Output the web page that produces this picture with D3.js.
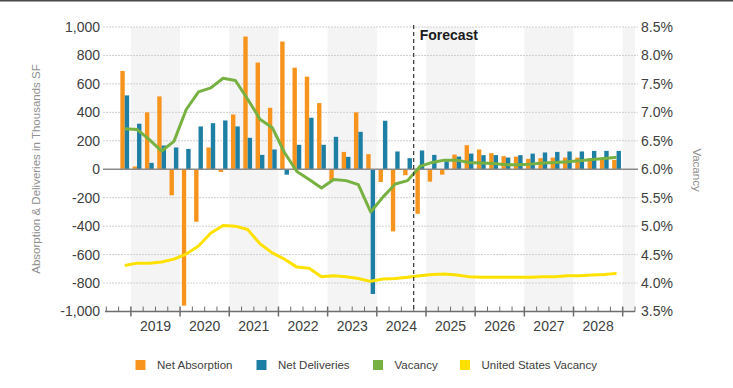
<!DOCTYPE html>
<html>
<head>
<meta charset="utf-8">
<script src="https://cdn.jsdelivr.net/npm/d3@7"></script>
<style>
  html, body { margin: 0; padding: 0; background: #fff; }
  svg { display: block; font-family: "Liberation Sans", Arial, sans-serif; }
</style>
</head>
<body>
<svg id="chart" width="733" height="388"></svg>
<script>
// ---------- DATA ----------
const quarters = [
  "2018 Q4",
  "2019 Q1","2019 Q2","2019 Q3","2019 Q4",
  "2020 Q1","2020 Q2","2020 Q3","2020 Q4",
  "2021 Q1","2021 Q2","2021 Q3","2021 Q4",
  "2022 Q1","2022 Q2","2022 Q3","2022 Q4",
  "2023 Q1","2023 Q2","2023 Q3","2023 Q4",
  "2024 Q1","2024 Q2","2024 Q3","2024 Q4",
  "2025 Q1","2025 Q2","2025 Q3","2025 Q4",
  "2026 Q1","2026 Q2","2026 Q3","2026 Q4",
  "2027 Q1","2027 Q2","2027 Q3","2027 Q4",
  "2028 Q1","2028 Q2","2028 Q3","2028 Q4"
];
const netAbsorption = [
  691,
  19, 400, 512, -183,
  -959, -369, 153, -19,
  385, 933, 750, 432,
  898, 714, 651, 465,
  -82, 122, 400, 106,
  -89, -437, -42, -313,
  -87, -38, 103, 169,
  139, 113, 92, 89,
  73, 78, 82, 82,
  82, 78, 73, 66
];
const netDeliveries = [
  519,
  320, 45, 167, 153,
  143, 301, 324, 343,
  301, 221, 101, 139,
  -38, 172, 362, 172,
  228, 87, 263, -877,
  341, 125, 78, 132,
  101, 56, 89, 110,
  99, 99, 82, 99,
  110, 118, 122, 125,
  125, 129, 129, 129
];
const vacancy = [
  6.71,
  6.70, 6.52, 6.32, 6.49,
  7.05, 7.36, 7.43, 7.60,
  7.56, 7.23, 6.88, 6.73,
  6.29, 5.96, 5.82, 5.67,
  5.82, 5.80, 5.73, 5.25,
  5.51, 5.74, 5.80, 6.05,
  6.12, 6.16, 6.16, 6.12,
  6.11, 6.10, 6.08, 6.08,
  6.09, 6.11, 6.12, 6.13,
  6.15, 6.17, 6.19, 6.21
];
const usVacancy = [
  4.31,
  4.35, 4.35, 4.37, 4.42,
  4.51, 4.65, 4.88, 5.01,
  5.00, 4.94, 4.69, 4.53,
  4.42, 4.28, 4.26, 4.11,
  4.13, 4.11, 4.08, 4.03,
  4.07, 4.08, 4.10, 4.13,
  4.15, 4.16, 4.14, 4.11,
  4.10, 4.10, 4.10, 4.10,
  4.10, 4.11, 4.11, 4.13,
  4.13, 4.14, 4.15, 4.17
];
const years = ["2019","2020","2021","2022","2023","2024","2025","2026","2027","2028"];
const shadedYears = ["2019","2021","2023","2025","2027","2029"];
const leftTicks = [-1000,-800,-600,-400,-200,0,200,400,600,800,1000];
const rightTicks = [3.5,4.0,4.5,5.0,5.5,6.0,6.5,7.0,7.5,8.0,8.5];
const firstForecast = "2024 Q4";
const seriesNames = ["Net Absorption","Net Deliveries","Vacancy","United States Vacancy"];
const colors = {
  "Net Absorption": "#F7941D",
  "Net Deliveries": "#1D7FA3",
  "Vacancy": "#77B142",
  "United States Vacancy": "#FFE100"
};

// ---------- LAYOUT ----------
const svg = d3.select("#chart");
const plotLeft = 106.3, plotRight = 635, plotTop = 27, plotBottom = 311.5;

// slots: an empty quarter before and after the data
const slots = ["pad0", ...quarters, "pad1"];
const x = d3.scaleBand().domain(slots).range([plotLeft, plotRight]).padding(0);
const bw = x.bandwidth();
const xSub = d3.scaleBand().domain(["abs","del"]).range([0, bw]).paddingInner(0).paddingOuter(0.4);
const yL = d3.scaleLinear().domain([-1000, 1000]).range([plotBottom, plotTop]);
const yR = d3.scaleLinear().domain([3.5, 8.5]).range([plotBottom, plotTop]);

// year boundary position: start of Q1 slot (2029 -> after last slot's predecessor)
function yearStart(y) {
  const k = y + " Q1";
  if (quarters.includes(k)) return x(k);
  return x("pad1"); // 2029
}

// top border
svg.append("line").attr("x1", 0).attr("x2", 733).attr("y1", 0.5).attr("y2", 0.5)
  .attr("stroke", "#4a4a4a").attr("stroke-width", 2);

// shading
const gShade = svg.append("g");
shadedYears.forEach(yr => {
  const s = yearStart(+yr);
  const e = Math.min(s + 4 * bw, plotRight);
  gShade.append("rect").attr("x", s).attr("y", plotTop).attr("width", e - s)
    .attr("height", plotBottom - plotTop).attr("fill", "#f4f4f4");
});

// gridlines
const fmtL = d3.formatLocale({decimal: ".", thousands: ",", grouping: [3], currency: ["$", ""], minus: "-"}).format(",");
const gGrid = svg.append("g");
leftTicks.forEach(t => {
  if (t === -1000 || t === 0) return;
  gGrid.append("line").attr("x1", 103).attr("x2", 638)
    .attr("y1", yL(t)).attr("y2", yL(t))
    .attr("stroke", "#cfcfcf").attr("stroke-width", 1).attr("stroke-dasharray", "2,1");
});

// left tick labels
svg.append("g").selectAll("text").data(leftTicks).join("text")
  .attr("x", 100).attr("y", d => yL(d)).attr("dy", "0.35em")
  .attr("text-anchor", "end").attr("font-size", 14).attr("fill", "#404040")
  .text(d => fmtL(d));
// right tick labels
svg.append("g").selectAll("text").data(rightTicks).join("text")
  .attr("x", 641).attr("y", d => yR(d)).attr("dy", "0.35em")
  .attr("text-anchor", "start").attr("font-size", 14).attr("fill", "#404040")
  .text(d => d3.format(".1f")(d) + "%");

// axis titles
svg.append("text").attr("transform", "translate(40,169) rotate(-90)")
  .attr("text-anchor", "middle").attr("font-size", 11.5).attr("fill", "#8f8f8f")
  .text("Absorption & Deliveries in Thousands SF");
svg.append("text").attr("transform", "translate(693,170) rotate(90)")
  .attr("text-anchor", "middle").attr("font-size", 11.5).attr("fill", "#8f8f8f")
  .text("Vacancy");

// bars
const gBars = svg.append("g");
gBars.selectAll("rect.abs").data(quarters).join("rect").attr("class", "abs")
  .attr("x", (q) => x(q) + xSub("abs"))
  .attr("width", xSub.bandwidth())
  .attr("y", (q, i) => yL(Math.max(0, netAbsorption[i])))
  .attr("height", (q, i) => Math.abs(yL(netAbsorption[i]) - yL(0)))
  .attr("fill", colors["Net Absorption"]);
gBars.selectAll("rect.del").data(quarters).join("rect").attr("class", "del")
  .attr("x", (q) => x(q) + xSub("del"))
  .attr("width", xSub.bandwidth())
  .attr("y", (q, i) => yL(Math.max(0, netDeliveries[i])))
  .attr("height", (q, i) => Math.abs(yL(netDeliveries[i]) - yL(0)))
  .attr("fill", colors["Net Deliveries"]);

// zero line
svg.append("line").attr("x1", 103).attr("x2", 638).attr("y1", yL(0)).attr("y2", yL(0))
  .attr("stroke", "#8a8a8a").attr("stroke-width", 1.5);

// bottom axis
const gAx = svg.append("g").attr("stroke", "#6e6e6e");
gAx.append("line").attr("x1", 105).attr("x2", plotRight).attr("y1", plotBottom).attr("y2", plotBottom).attr("stroke-width", 1.5);
slots.concat(["end"]).forEach((s, i) => {
  const xp = s === "end" ? plotRight : x(s);
  const isMajor = (s !== "end") && (s.endsWith("Q1") || s === "pad1");
  gAx.append("line").attr("x1", xp).attr("x2", xp)
    .attr("y1", plotBottom - 5).attr("y2", isMajor ? plotBottom + 5 : plotBottom)
    .attr("stroke-width", isMajor ? 1.5 : 1);
});
svg.append("g").selectAll("text").data(years).join("text")
  .attr("x", d => yearStart(+d) + 2 * bw).attr("y", 326).attr("dy", "0.35em")
  .attr("text-anchor", "middle").attr("font-size", 14).attr("fill", "#404040")
  .text(d => d);

// lines
const lineV = d3.line().x((d, i) => x(quarters[i]) + bw / 2).y(d => yR(d));
svg.append("path").datum(usVacancy).attr("d", lineV).attr("fill", "none")
  .attr("stroke", colors["United States Vacancy"]).attr("stroke-width", 3).attr("stroke-linejoin", "round");
svg.append("path").datum(vacancy).attr("d", lineV).attr("fill", "none")
  .attr("stroke", colors["Vacancy"]).attr("stroke-width", 3).attr("stroke-linejoin", "round");

// forecast divider
const fx = x(firstForecast);
svg.append("line").attr("x1", fx).attr("x2", fx).attr("y1", plotTop - 2).attr("y2", plotBottom)
  .attr("stroke", "#333").attr("stroke-width", 1.2).attr("stroke-dasharray", "4,3");
svg.append("text").attr("x", fx + 6).attr("y", 40).attr("font-size", 14).attr("font-weight", "bold")
  .attr("fill", "#1a1a1a").text("Forecast");

// legend
const legendX = [135.5, 256.5, 373, 460];
const gLeg = svg.append("g");
seriesNames.forEach((n, i) => {
  gLeg.append("rect").attr("x", legendX[i]).attr("y", 360).attr("width", 10).attr("height", 10)
    .attr("fill", colors[n]);
  gLeg.append("text").attr("x", legendX[i] + 21.5).attr("y", 365).attr("dy", "0.35em")
    .attr("font-size", 11.5).attr("fill", "#404040").text(n);
});
</script>
</body>
</html>
